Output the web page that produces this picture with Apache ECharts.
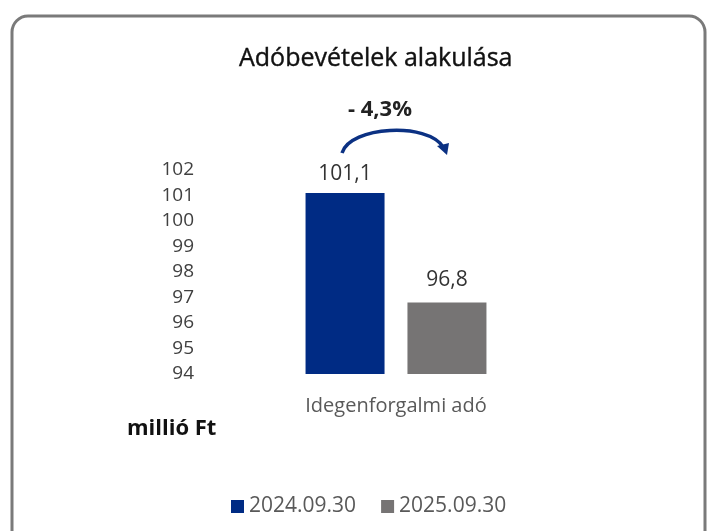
<!DOCTYPE html>
<html lang="hu">
<head>
<meta charset="UTF-8">
<title>Adóbevételek alakulása</title>
<script src="https://cdn.jsdelivr.net/npm/echarts@6/dist/echarts.min.js"></script>
<style>
  html, body { margin: 0; padding: 0; background: #fff; }
  #main { width: 708px; height: 531px; }
</style>
</head>
<body>
<div id="main"></div>
<script>
  var categories = ['Idegenforgalmi adó'];
  var seriesNames = ['2024.09.30', '2025.09.30'];
  var values2024 = [101.1];
  var values2025 = [96.8];
  var changeText = '- 4,3%';

  var font = '"Open Sans", Lato, sans-serif';
  var chart = echarts.init(document.getElementById('main'));

  // 101.1 -> "101,1"
  function comma(p) {
    return p.value.toFixed(1).replace('.', ',');
  }

  chart.setOption({
    animation: false,
    textStyle: { fontFamily: font },
    title: {
      text: 'Adóbevételek alakulása',
      left: 234,
      top: 41,
      textStyle: { fontSize: 25, fontWeight: 'normal', color: '#111', fontFamily: font, textBorderColor: '#111', textBorderWidth: 0.4 }
    },
    legend: {
      data: seriesNames,
      left: 226,
      top: 491,
      icon: 'rect',
      itemWidth: 13,
      itemHeight: 13,
      itemGap: 25,
      textStyle: { fontSize: 21, color: '#595959', fontFamily: font }
    },
    grid: { left: 205, right: 121, top: 170, bottom: 157 },
    xAxis: {
      type: 'category',
      data: categories,
      axisLine: { show: false },
      axisTick: { show: false },
      axisLabel: { fontSize: 20, color: '#595959', margin: 22 }
    },
    yAxis: {
      type: 'value',
      min: 94,
      max: 102,
      interval: 1,
      axisLine: { show: false },
      axisTick: { show: false },
      splitLine: { show: false },
      axisLabel: { fontSize: 19, color: '#404040', margin: 11 }
    },
    series: [
      {
        name: seriesNames[0],
        type: 'bar',
        data: values2024,
        barWidth: 79,
        barGap: '29%',
        itemStyle: { color: '#002b84' },
        label: { show: true, position: 'top', distance: 8, fontSize: 21, color: '#333', formatter: comma }
      },
      {
        name: seriesNames[1],
        type: 'bar',
        data: values2025,
        barWidth: 79,
        itemStyle: { color: '#767474' },
        label: { show: true, position: 'top', distance: 12, fontSize: 21, color: '#333', formatter: comma }
      }
    ],
    graphic: [
      {
        type: 'rect',
        shape: { x: 12, y: 16, width: 693, height: 560, r: 16 },
        style: { fill: 'none', stroke: '#7a7a7a', lineWidth: 3 },
        z: -1
      },
      {
        type: 'text',
        x: 380,
        y: 110,
        style: { text: changeText, fontSize: 22, fontWeight: 'bold', fill: '#222', fontFamily: font, align: 'center', verticalAlign: 'middle' }
      },
      {
        type: 'text',
        x: 127,
        y: 429,
        style: { text: 'millió Ft', fontSize: 22, fontWeight: 'bold', fill: '#111', fontFamily: font, verticalAlign: 'middle' }
      },
      {
        type: 'bezierCurve',
        shape: { x1: 342, y1: 153, cpx1: 350, cpy1: 126, cpx2: 428, cpy2: 122, x2: 443, y2: 147 },
        style: { stroke: '#0b3183', lineWidth: 3.5, fill: 'none' }
      },
      {
        type: 'polygon',
        shape: { points: [[437, 146], [449, 143], [447, 155]] },
        style: { fill: '#0b3183' }
      }
    ]
  });
</script>
</body>
</html>
